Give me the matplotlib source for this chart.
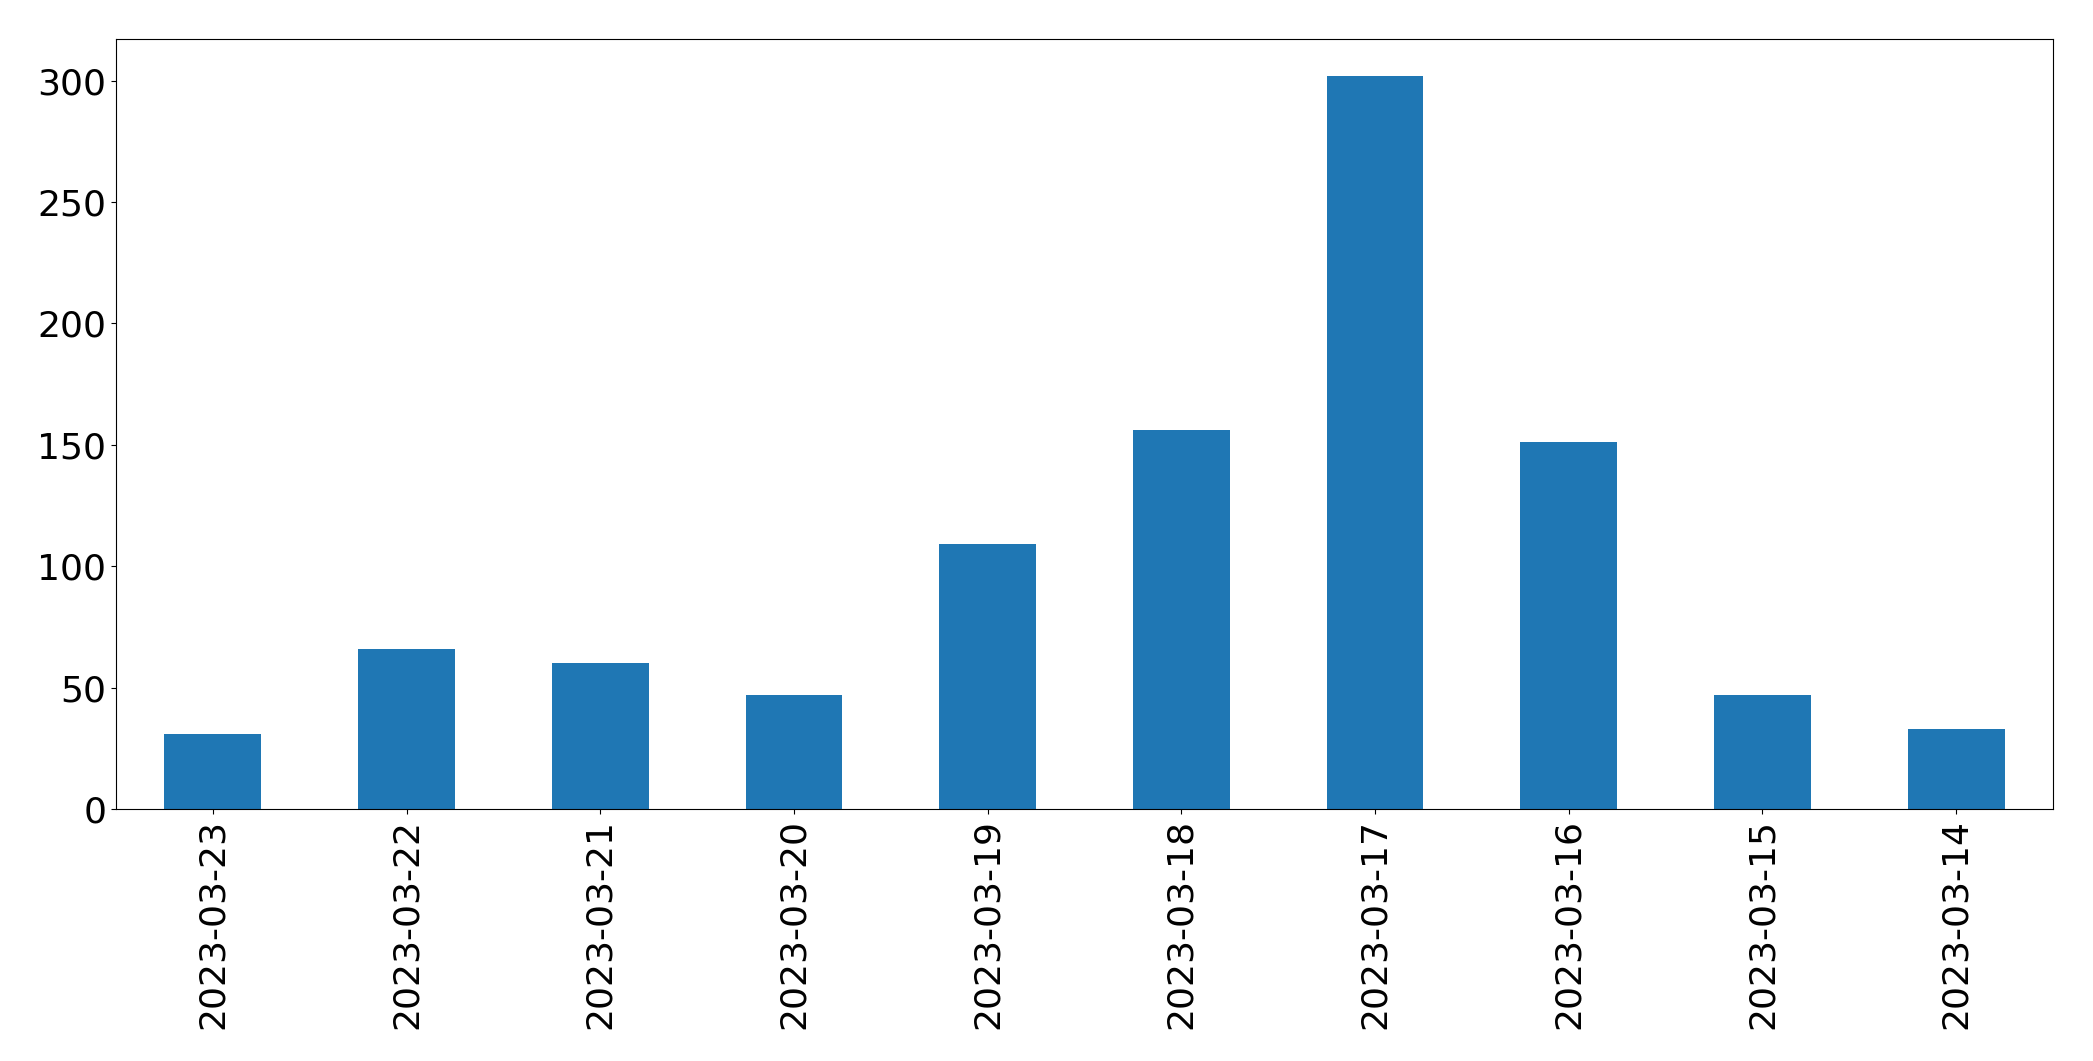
import matplotlib
matplotlib.use("Agg")
from matplotlib import pyplot as plt

# daily counts, newest first (as in the reference)
dates = ['2023-03-23', '2023-03-22', '2023-03-21', '2023-03-20', '2023-03-19',
         '2023-03-18', '2023-03-17', '2023-03-16', '2023-03-15', '2023-03-14']
counts = [31, 66, 60, 47, 109, 156, 302, 151, 47, 33]

fig = plt.figure(figsize=(20.93, 10.61), dpi=100)
ax = fig.add_axes([116/2093, 252/1061, 1937/2093, 770/1061])

x = range(len(dates))
ax.bar(x, counts, width=0.5, color='#1f77b4')
ax.set_xlim(-0.5, len(dates) - 0.5)
ax.set_xticks(list(x))
ax.set_xticklabels(dates, rotation=90)
ax.tick_params(labelsize=26)

fig.savefig('out.png', dpi=100)
